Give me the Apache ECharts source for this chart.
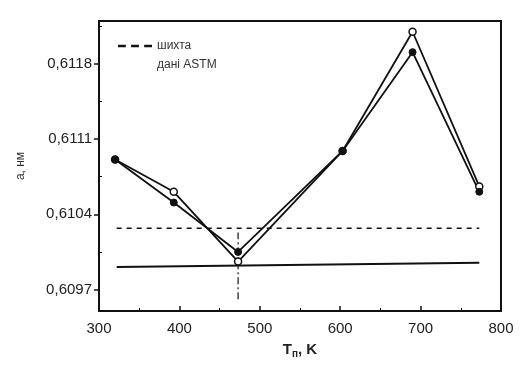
<!DOCTYPE html>
<html><head><meta charset="utf-8">
<script src="https://cdn.jsdelivr.net/npm/echarts@6/dist/echarts.min.js"></script>
<style>html,body{margin:0;padding:0;background:#fff}#c{width:520px;height:366px}</style>
</head><body><div id="c"></div>
<script>
// data
const temps = [320, 393, 473, 603, 690, 773];
const openValues = [0.61091, 0.61061, 0.60996, 0.61099, 0.61210, 0.61066];
const filledValues = [0.61091, 0.61051, 0.61005, 0.61099, 0.61191, 0.61061];
const chargeLineX = [322, 773];
const chargeLineY = [0.61027, 0.61027];
const astmLineX = [322, 773];
const astmLineY = [0.60991, 0.60995];
const errX = [473, 473];
const errY = [0.60961, 0.61023];
const yTicks = [0.6097, 0.6104, 0.6111, 0.6118];
const yMinorTicks = [0.60935, 0.61005, 0.61075, 0.61145, 0.61215];
const xTicks = [300, 400, 500, 600, 700, 800];
const legendNames = ['шихта', 'дані ASTM'];

const zip = (a, b) => a.map((v, i) => [v, b[i]]);
const font = 'Liberation Sans, Arial, sans-serif';
const chart = echarts.init(document.getElementById('c'));
chart.setOption({
  backgroundColor: '#fff',
  animation: false,
  grid: { left: 99, right: 19, top: 21, bottom: 55, show: true, borderColor: '#111', borderWidth: 2 },
  legend: {
    left: 112, top: 35, orient: 'vertical', itemGap: 7, itemWidth: 34, itemHeight: 10,
    textStyle: { fontFamily: font, fontSize: 12, color: '#333' },
    data: [
      { name: legendNames[0], icon: 'path://M0,4h6v2H0zM10,4h6v2H10zM20,4h6v2H20z' },
      { name: legendNames[1], itemStyle: { opacity: 0 }, lineStyle: { opacity: 0 } }
    ]
  },
  xAxis: {
    type: 'value', min: 300, max: 800, interval: 100,
    name: '{a|T}{b|п}{a|, K}', nameLocation: 'middle', nameGap: 30,
    nameTextStyle: { rich: { a: { fontFamily: font, fontSize: 15, fontWeight: 'bold', color: '#222' }, b: { fontFamily: font, fontSize: 10, fontWeight: 'bold', color: '#222', verticalAlign: 'bottom', padding: [8, 0, 0, 0] } } },
    axisLine: { lineStyle: { color: '#111', width: 2 } },
    axisTick: { inside: true, length: 5, lineStyle: { color: '#111', width: 1.5 } },
    minorTick: { show: true, splitNumber: 2, length: 3, lineStyle: { color: '#111' } },
    axisLabel: { fontFamily: font, fontSize: 15, color: '#222', margin: 10, customValues: xTicks },
    splitLine: { show: false }
  },
  yAxis: [{
    type: 'value', min: 0.6095, max: 0.6122,
    name: 'a, нм', nameLocation: 'middle', nameGap: 72, nameRotate: 90,
    nameTextStyle: { fontFamily: font, fontSize: 12, color: '#333' },
    axisLine: { lineStyle: { color: '#111', width: 2 } },
    axisTick: { customValues: yTicks, length: 5, lineStyle: { color: '#111', width: 1.5 } },
    axisLabel: { customValues: yTicks, fontFamily: font, fontSize: 15, color: '#222', margin: 7,
      formatter: v => v.toFixed(4).replace('.', ',') },
    splitLine: { show: false }
  }, {
    type: 'value', min: 0.6095, max: 0.6122, position: 'left',
    axisLine: { show: false },
    axisTick: { customValues: yMinorTicks, inside: true, length: 3, lineStyle: { color: '#111' } },
    axisLabel: { show: false }, splitLine: { show: false }
  }],
  series: [
    { name: legendNames[0], type: 'line', data: zip(chargeLineX, chargeLineY), symbol: 'none',
      lineStyle: { color: '#111', width: 1.5, type: [5, 5] }, itemStyle: { color: '#111' } },
    { name: legendNames[1], type: 'line', data: zip(astmLineX, astmLineY), symbol: 'none',
      lineStyle: { color: '#111', width: 2 }, itemStyle: { color: '#111' } },
    { name: 'err', type: 'line', data: zip(errX, errY), symbol: 'none',
      lineStyle: { color: '#111', width: 1.2, type: [7, 3, 2, 3] } },
    { name: 'open', type: 'line', data: zip(temps, openValues), symbol: 'circle', symbolSize: 7,
      lineStyle: { color: '#111', width: 1.8 }, itemStyle: { color: '#fff', borderColor: '#111', borderWidth: 1.5 } },
    { name: 'filled', type: 'line', data: zip(temps, filledValues), symbol: 'circle', symbolSize: 7,
      lineStyle: { color: '#111', width: 1.8 }, itemStyle: { color: '#111', borderColor: '#111' } }
  ]
});
</script></body></html>
